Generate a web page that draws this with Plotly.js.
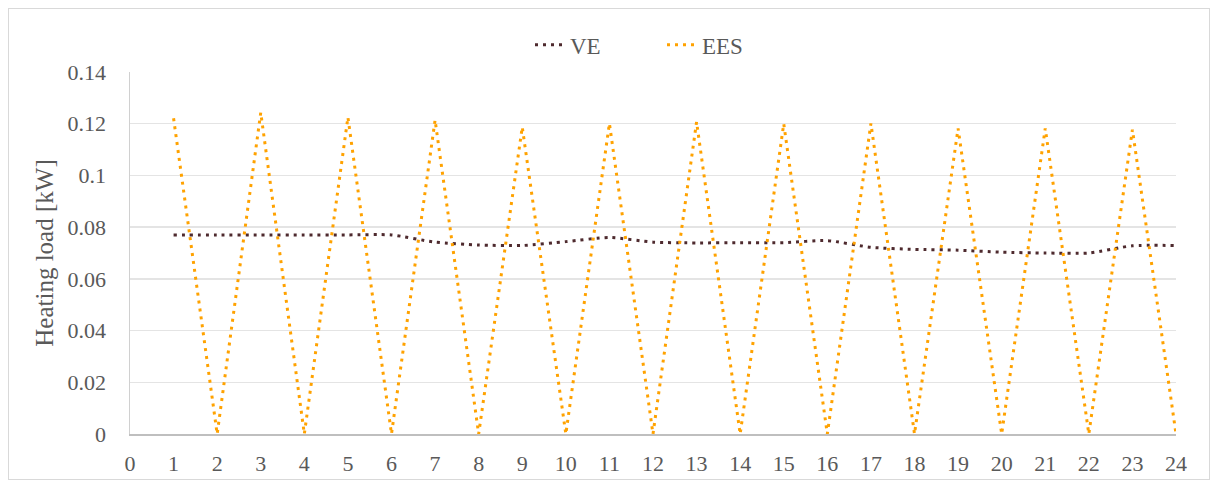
<!DOCTYPE html>
<html>
<head>
<meta charset="utf-8">
<script src="https://cdn.plot.ly/plotly-3.0.1.min.js"></script>
<style>
  html, body { margin: 0; padding: 0; background: #fff; }
  #frame { position: absolute; left: 8px; top: 8px; width: 1202px; height: 472px; border: 1px solid #d9d9d9; box-sizing: border-box; }
  #chart { position: absolute; left: 0; top: 0; width: 1214px; height: 483px; }
</style>
</head>
<body>
<div id="frame"></div>
<div id="chart"></div>
<script>
const hours = [1,2,3,4,5,6,7,8,9,10,11,12,13,14,15,16,17,18,19,20,21,22,23,24];
const veLoad = [0.077,0.077,0.077,0.077,0.077,0.077,0.0742,0.0731,0.0729,0.0744,0.076,0.0742,
                0.0739,0.074,0.074,0.0748,0.0722,0.0714,0.0711,0.0703,0.070,0.070,0.0728,0.0729];
const eesLoad = [0.1221,0,0.1243,0,0.1225,0,0.1214,0,0.1187,0,0.1201,0,
                 0.1207,0,0.120,0,0.1201,0,0.1182,0,0.1182,0,0.1177,0];
const xTicks = [0,1,2,3,4,5,6,7,8,9,10,11,12,13,14,15,16,17,18,19,20,21,22,23,24];
const seriesNames = ['VE','EES'];

const fontFam = '"Liberation Serif", "DejaVu Serif", serif';
const traces = [
  { x: hours, y: veLoad, name: seriesNames[0], type: 'scatter', mode: 'lines',
    line: { color: '#4e2a2e', width: 3, dash: '3px,5px', shape: 'spline', smoothing: 0.6 } },
  { x: hours, y: eesLoad, name: seriesNames[1], type: 'scatter', mode: 'lines',
    line: { color: '#ffa200', width: 3, dash: '3px,5px' } }
];
const layout = {
  width: 1214, height: 483,
  margin: { l: 130, r: 38, t: 72, b: 49 },
  paper_bgcolor: 'rgba(0,0,0,0)', plot_bgcolor: '#fff',
  font: { family: fontFam, size: 22, color: '#595959' },
  showlegend: true,
  legend: { orientation: 'h', x: 0.5086, xanchor: 'center', y: 1.075, yanchor: 'middle',
            font: { family: fontFam, size: 23, color: '#595959' },
            entrywidth: 87, entrywidthmode: 'pixels' },
  xaxis: { range: [0, 24], tickvals: xTicks, ticktext: xTicks.map(String),
           showgrid: false, zeroline: false, showline: true, linecolor: '#bfbfbf', linewidth: 1.5,
           ticks: 'outside', ticklen: 9, tickcolor: 'rgba(0,0,0,0)', fixedrange: true },
  yaxis: { range: [0, 0.14], dtick: 0.02, tick0: 0, showgrid: true, gridcolor: '#e4e4e4', gridwidth: 1.5,
           zeroline: false, showline: true, linecolor: '#d0d0d0', linewidth: 1.5,
           ticks: 'outside', ticklen: 18, tickcolor: 'rgba(0,0,0,0)',
           title: { text: 'Heating load [kW]', font: { family: fontFam, size: 25, color: '#595959' }, standoff: 7 } }
};
Plotly.newPlot('chart', traces, layout, { displayModeBar: false, staticPlot: true });
</script>
</body>
</html>
